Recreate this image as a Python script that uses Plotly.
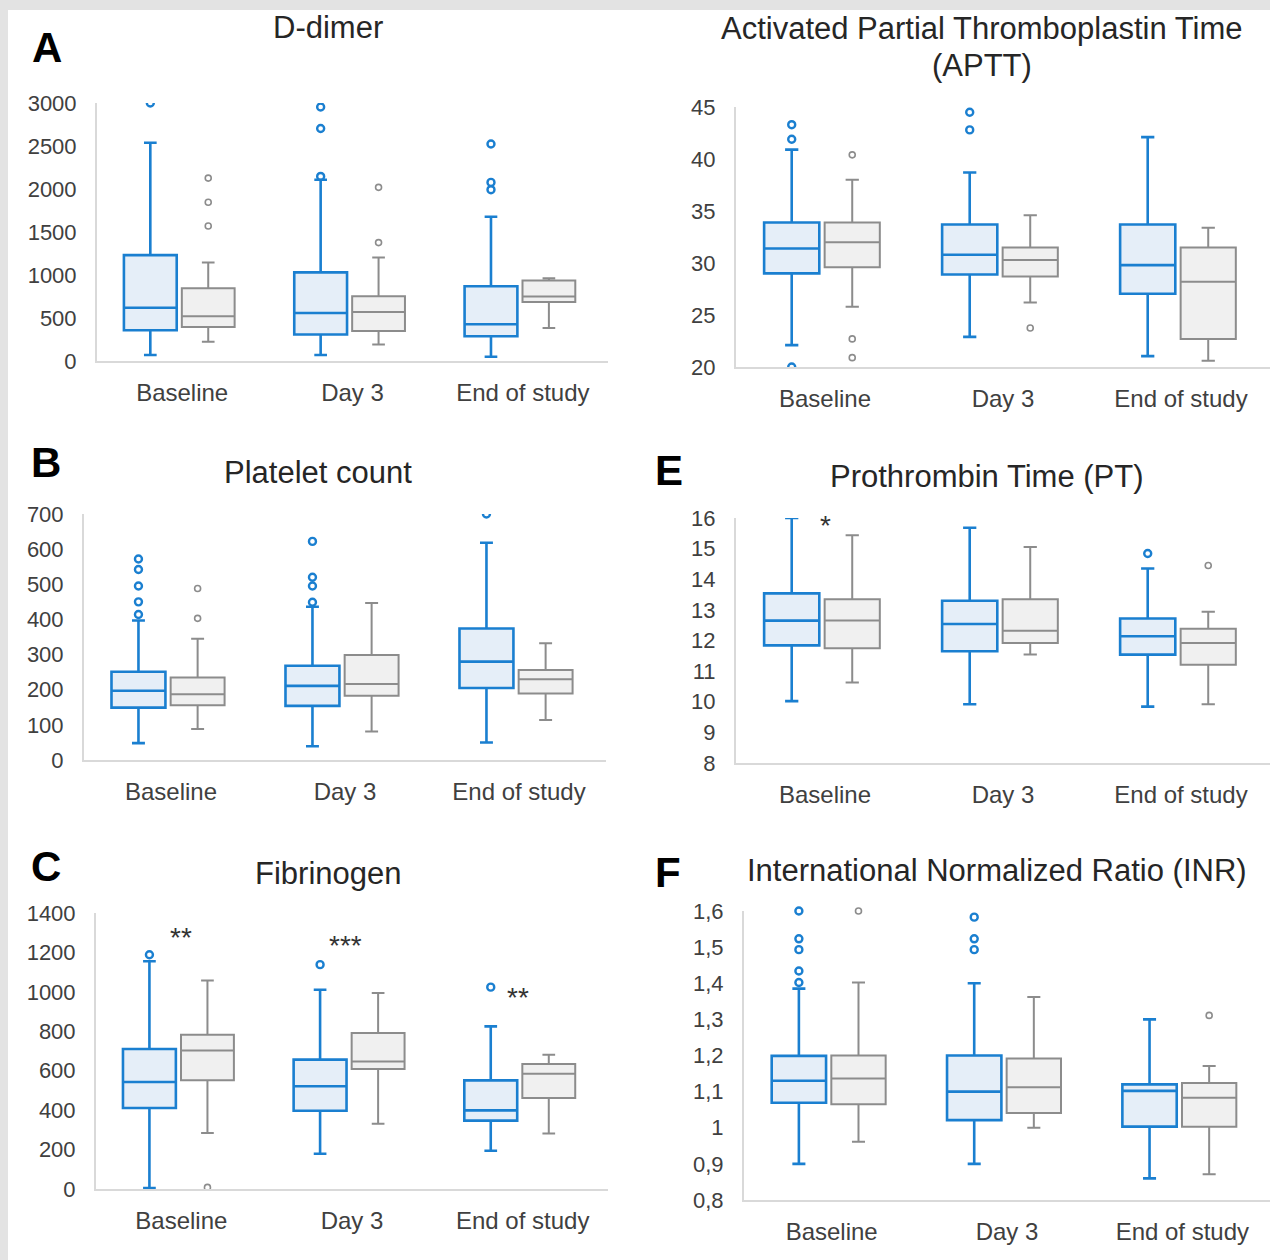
import plotly.graph_objects as go

W, H = 1270, 1260

categories = ["Baseline", "Day 3", "End of study"]

# ---------------- D-dimer ----------------
dd_blue_low = [69, 69, 50]
dd_blue_q1 = [358, 308, 288]
dd_blue_med = [619, 558, 427]
dd_blue_q3 = [1231, 1031, 869]
dd_blue_up = [2538, 2108, 1677]
dd_blue_out = [[3000], [2954, 2704, 2146], [2523, 2077, 1992]]
dd_gray_low = [223, 192, 385]
dd_gray_q1 = [396, 350, 685]
dd_gray_med = [519, 569, 750]
dd_gray_q3 = [846, 754, 935]
dd_gray_up = [1146, 1204, 962]
dd_gray_out = [[2127, 1846, 1569], [2019, 1377], []]

# ---------------- Platelet count ----------------
pl_blue_low = [48, 39, 50]
pl_blue_q1 = [149, 154, 205]
pl_blue_med = [197, 211, 280]
pl_blue_q3 = [251, 268, 374]
pl_blue_up = [397, 436, 618]
pl_blue_out = [[572, 542, 495, 450, 414], [622, 520, 495, 449], [700]]
pl_gray_low = [88, 81, 114]
pl_gray_q1 = [156, 183, 189]
pl_gray_med = [187, 216, 230]
pl_gray_q3 = [235, 299, 256]
pl_gray_up = [345, 447, 332]
pl_gray_out = [[488, 403], [], []]

# ---------------- Fibrinogen ----------------
fb_blue_low = [5, 179, 194]
fb_blue_q1 = [411, 397, 347]
fb_blue_med = [543, 521, 399]
fb_blue_q3 = [710, 656, 551]
fb_blue_up = [1155, 1011, 825]
fb_blue_out = [[1188], [1138], [1024]]
fb_gray_low = [284, 331, 281]
fb_gray_q1 = [551, 609, 461]
fb_gray_med = [702, 647, 585]
fb_gray_q3 = [783, 791, 634]
fb_gray_up = [1058, 994, 681]
fb_gray_out = [[8], [], []]
fb_stars = ["**", "***", "**"]
fb_star_x = [0.0, 0.96, 1.97]
fb_star_y = [1307, 1265, 1002]

# ---------------- APTT ----------------
ap_blue_low = [22.1, 22.9, 21.05]
ap_blue_q1 = [29.0, 28.9, 27.05]
ap_blue_med = [31.4, 30.8, 29.8]
ap_blue_q3 = [33.9, 33.7, 33.7]
ap_blue_up = [40.9, 38.7, 42.1]
ap_blue_out = [[43.3, 41.9, 20.0], [44.5, 42.8], []]
ap_gray_low = [25.8, 26.2, 20.6]
ap_gray_q1 = [29.6, 28.7, 22.7]
ap_gray_med = [32.0, 30.3, 28.2]
ap_gray_q3 = [33.9, 31.5, 31.5]
ap_gray_up = [38.0, 34.6, 33.4]
ap_gray_out = [[40.4, 22.7, 20.9], [23.75], []]

# ---------------- PT ----------------
pt_blue_low = [10.02, 9.92, 9.84]
pt_blue_q1 = [11.84, 11.65, 11.54]
pt_blue_med = [12.65, 12.54, 12.14]
pt_blue_q3 = [13.54, 13.3, 12.72]
pt_blue_up = [16.0, 15.68, 14.35]
pt_blue_out = [[], [], [14.84]]
pt_gray_low = [10.63, 11.54, 9.92]
pt_gray_q1 = [11.75, 11.92, 11.21]
pt_gray_med = [12.65, 12.32, 11.92]
pt_gray_q3 = [13.35, 13.35, 12.38]
pt_gray_up = [15.44, 15.05, 12.94]
pt_gray_out = [[], [], [14.45]]
pt_stars = ["*"]
pt_star_x = [0.0]
pt_star_y = [15.95]

# ---------------- INR ----------------
inr_blue_low = [0.90, 0.90, 0.86]
inr_blue_q1 = [1.069, 1.021, 1.003]
inr_blue_med = [1.13, 1.10, 1.102]
inr_blue_q3 = [1.199, 1.20, 1.12]
inr_blue_up = [1.385, 1.40, 1.30]
inr_blue_out = [[1.60, 1.523, 1.493, 1.434, 1.402], [1.583, 1.523, 1.493], []]
inr_gray_low = [0.961, 1.0, 0.871]
inr_gray_q1 = [1.065, 1.041, 1.003]
inr_gray_med = [1.136, 1.112, 1.083]
inr_gray_q3 = [1.2, 1.192, 1.124]
inr_gray_up = [1.402, 1.362, 1.171]
inr_gray_out = [[1.6], [], [1.311]]
inr_tickvals = [0.8, 0.9, 1.0, 1.1, 1.2, 1.3, 1.4, 1.5, 1.6]
inr_ticktext = ["0,8", "0,9", "1", "1,1", "1,2", "1,3", "1,4", "1,5", "1,6"]

# ---------------- styling ----------------
BLUE = "#1a7fd0"
BLUE_FILL = "#e5eef8"
GRAY = "#8c8c8c"
GRAY_FILL = "#f0f0f0"
AXIS = "#d9d9d9"
TXT = "#404040"
FONT = "Liberation Sans, Arial, sans-serif"
OFF_BLUE = -0.187
OFF_GRAY = 0.153
BOXW = 0.31
XRANGE = [-0.5, 2.5]

fig = go.Figure()

panels = [
    dict(n=1, title=["D-dimer"], title_xy=[(328, 27)], letter="A", letter_xy=(47, 48),
         px=(97, 608, 103, 361), yr=[0, 3000], dtick=500, clip=True,
         blue=(dd_blue_low, dd_blue_q1, dd_blue_med, dd_blue_q3, dd_blue_up, dd_blue_out),
         gray=(dd_gray_low, dd_gray_q1, dd_gray_med, dd_gray_q3, dd_gray_up, dd_gray_out)),
    dict(n=2, title=["Platelet count"], title_xy=[(318, 472)], letter="B", letter_xy=(46, 462),
         px=(84, 606, 514, 760), yr=[0, 700], dtick=100, clip=True,
         blue=(pl_blue_low, pl_blue_q1, pl_blue_med, pl_blue_q3, pl_blue_up, pl_blue_out),
         gray=(pl_gray_low, pl_gray_q1, pl_gray_med, pl_gray_q3, pl_gray_up, pl_gray_out)),
    dict(n=3, title=["Fibrinogen"], title_xy=[(328, 873)], letter="C", letter_xy=(46, 866),
         px=(96, 608, 913, 1189), yr=[0, 1400], dtick=200, clip=True,
         blue=(fb_blue_low, fb_blue_q1, fb_blue_med, fb_blue_q3, fb_blue_up, fb_blue_out),
         gray=(fb_gray_low, fb_gray_q1, fb_gray_med, fb_gray_q3, fb_gray_up, fb_gray_out),
         stars=(fb_stars, fb_star_x, fb_star_y)),
    dict(n=4, title=["Activated Partial Thromboplastin Time", "(APTT)"],
         title_xy=[(982, 28), (982, 65)], letter=None, letter_xy=None,
         px=(736, 1270, 107, 367), yr=[20, 45], dtick=5, clip=True,
         blue=(ap_blue_low, ap_blue_q1, ap_blue_med, ap_blue_q3, ap_blue_up, ap_blue_out),
         gray=(ap_gray_low, ap_gray_q1, ap_gray_med, ap_gray_q3, ap_gray_up, ap_gray_out)),
    dict(n=5, title=["Prothrombin Time (PT)"], title_xy=[(987, 476)], letter="E", letter_xy=(669, 470),
         px=(736, 1270, 518, 763), yr=[8, 16], dtick=1, clip=False,
         blue=(pt_blue_low, pt_blue_q1, pt_blue_med, pt_blue_q3, pt_blue_up, pt_blue_out),
         gray=(pt_gray_low, pt_gray_q1, pt_gray_med, pt_gray_q3, pt_gray_up, pt_gray_out),
         stars=(pt_stars, pt_star_x, pt_star_y)),
    dict(n=6, title=["International Normalized Ratio (INR)"], title_xy=[(997, 870)], letter="F",
         letter_xy=(668, 872),
         px=(744, 1270, 911, 1200), yr=[0.8, 1.6], dtick=None, clip=False,
         tickvals=inr_tickvals, ticktext=inr_ticktext,
         blue=(inr_blue_low, inr_blue_q1, inr_blue_med, inr_blue_q3, inr_blue_up, inr_blue_out),
         gray=(inr_gray_low, inr_gray_q1, inr_gray_med, inr_gray_q3, inr_gray_up, inr_gray_out)),
]

annotations = []
layout_axes = {}

for p in panels:
    n = p["n"]
    xa = "x" if n == 1 else f"x{n}"
    ya = "y" if n == 1 else f"y{n}"
    x0, x1, yt, yb = p["px"]
    for series, off, line_c, fill_c, lw, msize, mlw in [
        (p["blue"], OFF_BLUE, BLUE, BLUE_FILL, 2.6, 7, 2.4),
        (p["gray"], OFF_GRAY, GRAY, GRAY_FILL, 2.0, 6, 1.6),
    ]:
        low, q1, med, q3, up, outs = series
        xs = [i + off for i in range(len(categories))]
        fig.add_trace(go.Box(
            x=xs, q1=q1, median=med, q3=q3, lowerfence=low, upperfence=up,
            width=BOXW, whiskerwidth=0.24, boxpoints=False,
            line=dict(color=line_c, width=lw), fillcolor=fill_c,
            xaxis=xa, yaxis=ya, showlegend=False, hoverinfo="skip",
        ))
        ox, oy = [], []
        for i, vals in enumerate(outs):
            for v in vals:
                ox.append(i + off)
                oy.append(v)
        if ox:
            fig.add_trace(go.Scatter(
                x=ox, y=oy, mode="markers",
                marker=dict(symbol="circle-open", size=msize, color=line_c,
                            line=dict(width=mlw, color=line_c)),
                xaxis=xa, yaxis=ya, showlegend=False, cliponaxis=p["clip"],
                hoverinfo="skip",
            ))
    xkey = "xaxis" if n == 1 else f"xaxis{n}"
    ykey = "yaxis" if n == 1 else f"yaxis{n}"
    layout_axes[xkey] = dict(
        domain=[x0 / W, x1 / W], anchor=ya, range=XRANGE, automargin=False,
        tickvals=[0, 1, 2], ticktext=categories, showgrid=False, zeroline=False,
        showline=True, linecolor=AXIS, linewidth=2, ticks="",
        tickfont=dict(family=FONT, size=24, color=TXT), ticklabelstandoff=9,
        fixedrange=True,
    )
    yd = dict(
        domain=[1 - yb / H, 1 - yt / H], anchor=xa, range=p["yr"], automargin=False,
        showgrid=False, zeroline=False, showline=True, linecolor=AXIS, linewidth=2,
        ticks="", tickfont=dict(family=FONT, size=22, color=TXT), ticklabelstandoff=14,
        fixedrange=True,
    )
    if p.get("tickvals"):
        yd["tickvals"] = p["tickvals"]
        yd["ticktext"] = p["ticktext"]
    else:
        yd["dtick"] = p["dtick"]
        yd["tick0"] = p["yr"][0]
    layout_axes[ykey] = yd

    for t, (tx, ty) in zip(p["title"], p["title_xy"]):
        annotations.append(dict(
            text=t, x=tx / W, y=1 - ty / H, xref="paper", yref="paper",
            xanchor="center", yanchor="middle", showarrow=False,
            font=dict(family=FONT, size=31, color="#262626"),
        ))
    if p["letter"]:
        lx, ly = p["letter_xy"]
        annotations.append(dict(
            text=f"<b>{p['letter']}</b>", x=lx / W, y=1 - ly / H, xref="paper", yref="paper",
            xanchor="center", yanchor="middle", showarrow=False,
            font=dict(family=FONT, size=42, color="#000000"),
        ))
    if p.get("stars"):
        st, sx, sy = p["stars"]
        for s, xv, yv in zip(st, sx, sy):
            annotations.append(dict(
                text=s, x=xv, y=yv, xref=xa, yref=ya, xanchor="center", yanchor="middle",
                showarrow=False, yshift=-6,
                font=dict(family=FONT, size=28, color="#333333"),
            ))

fig.update_layout(
    width=W, height=H, margin=dict(l=0, r=0, t=0, b=0, autoexpand=False),
    paper_bgcolor="white", plot_bgcolor="rgba(0,0,0,0)",
    showlegend=False, annotations=annotations,
    shapes=[
        dict(type="rect", xref="paper", yref="paper", x0=0, x1=1, y0=1 - 10 / H, y1=1,
             fillcolor="#e3e3e3", line=dict(width=0), layer="below"),
        dict(type="rect", xref="paper", yref="paper", x0=0, x1=8 / W, y0=0, y1=1,
             fillcolor="#e3e3e3", line=dict(width=0), layer="below"),
    ],
    **layout_axes,
)

page_fix = (
    "document.documentElement.style.margin='0';"
    "document.documentElement.style.padding='0';"
    "document.body.style.margin='0';"
    "document.body.style.padding='0';"
    "var gd=document.getElementById('{plot_id}');"
    "gd.style.position='absolute';gd.style.left='0px';gd.style.top='0px';"
)

fig.write_html("out.html", post_script=page_fix, config={"displayModeBar": False})
